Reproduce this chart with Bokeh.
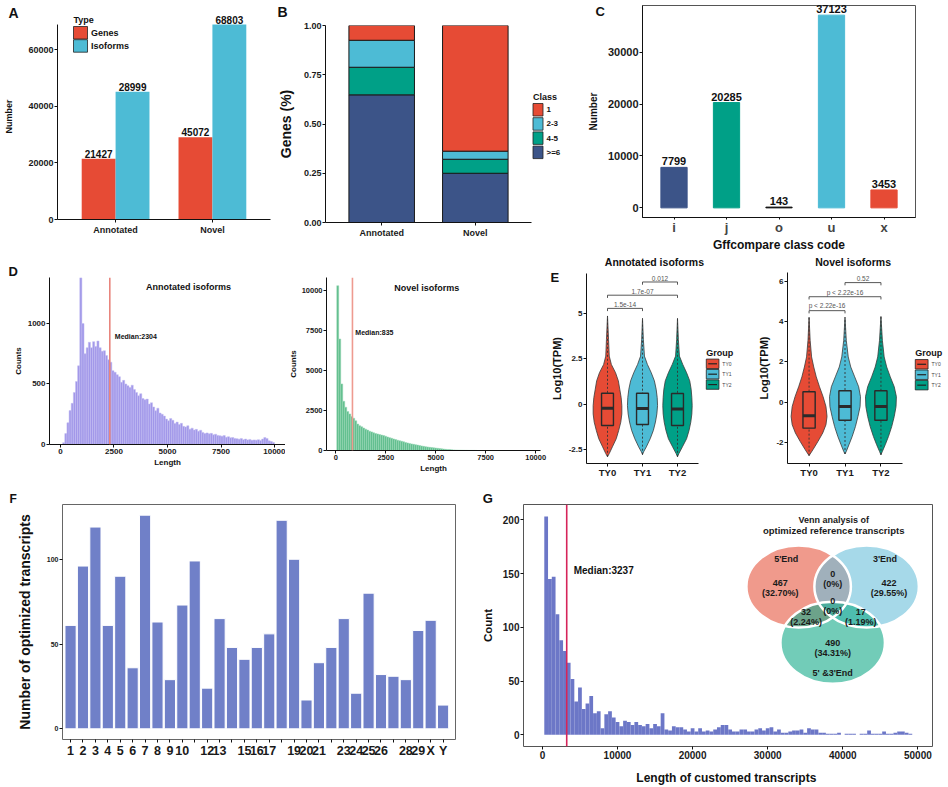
from bokeh.plotting import figure
from bokeh.layouts import row, column
from bokeh.models import (Range1d, FixedTicker, Span, ColumnDataSource)
from bokeh.core.properties import value
from bokeh.embed import file_html
from bokeh.resources import INLINE

FONT = "Liberation Sans"
BG = "#FFFFFF"
RED, CYAN, GREEN, NAVY = "#E64B35", "#4DBBD5", "#00A087", "#3C5488"

# ---------------- data ----------------
# A
a_groups = ["Annotated", "Novel"]
a_gene_height = [21427, 28999]
a_iso_height = [45072, 68803]
a_gene_label = ["21427", "45072"]
a_iso_label = ["28999", "68803"]
# B
b_groups = ["Annotated", "Novel"]
b_classes = ["1", "2-3", "4-5", ">=6"]
b_ge6 = [0.648, 0.250]
b_c45 = [0.140, 0.071]
b_c23 = [0.137, 0.041]
b_c1 = [0.075, 0.638]
# C
c_codes = ["i", "j", "o", "u", "x"]
c_counts = [7799, 20285, 143, 37123, 3453]
# D
d1_median = 2304
d1_counts = [15, 90, 180, 280, 340, 430, 520, 650, 1378, 1000,
             750, 800, 845, 800, 850, 810, 855, 800, 770, 775,
             735, 700, 680, 610, 597, 577, 560, 514, 530, 500,
             486, 470, 490, 455, 430, 403, 420, 380, 370, 375,
             334, 345, 310, 279, 300, 260, 250, 235, 210, 196,
             215, 200, 174, 185, 165, 175, 150, 145, 155, 127,
             135, 120, 125, 110, 118, 100, 91, 96, 88, 92,
             80, 85, 75, 72, 69, 74, 60, 65, 55, 58,
             50, 48, 44, 50, 40, 45, 38, 42, 35, 38,
             36, 40, 34, 45, 58, 50, 30, 25, 17]
d2_median = 835
d2_counts = [10270, 6950, 4150, 3070, 2700, 2430, 2280, 2115, 2010, 1850,
             1650, 1550, 1480, 1400, 1330, 1270, 1200, 1160, 1100, 1060,
             1030, 990, 960, 930, 890, 840, 800, 760, 720, 680,
             640, 610, 575, 540, 500, 470, 440, 410, 385, 360,
             335, 310, 285, 260, 240, 220, 200, 185, 170, 155,
             140, 120, 105, 90, 75, 65, 55, 45, 38, 32,
             27, 22, 18, 15, 12, 10, 8, 7, 6, 5]
# E
e_groups = ["TY0", "TY1", "TY2"]
ann_y = [[-2.92, -2.74, -2.37, -1.92, -1.46, -1.0, -0.55, -0.09, 0.36, 0.82, 1.28, 1.73, 2.19, 2.65, 3.56, 4.87],
         [-2.80, -2.65, -2.37, -1.92, -1.46, -1.0, -0.55, -0.09, 0.36, 0.82, 1.28, 1.73, 2.19, 2.65, 3.56, 4.74],
         [-2.92, -2.74, -2.37, -1.92, -1.46, -1.0, -0.55, -0.09, 0.36, 0.82, 1.28, 1.73, 2.19, 2.65, 3.56, 4.74]]
ann_hw = [[0, 0.05, 0.14, 0.25, 0.32, 0.38, 0.41, 0.41, 0.39, 0.35, 0.31, 0.23, 0.11, 0.05, 0.03, 0],
          [0, 0.03, 0.11, 0.22, 0.31, 0.37, 0.41, 0.43, 0.42, 0.39, 0.34, 0.25, 0.14, 0.055, 0.025, 0],
          [0, 0.04, 0.14, 0.26, 0.33, 0.38, 0.41, 0.42, 0.41, 0.39, 0.35, 0.26, 0.15, 0.055, 0.025, 0]]
ann_q1 = [-1.19, -1.13, -1.19]
ann_med = [-0.24, -0.25, -0.27]
ann_q3 = [0.60, 0.60, 0.58]
ann_pairs = [(1, 2), (1, 3), (2, 3)]
ann_pheight = [5.29, 6.02, 6.75]
ann_plabel = ["1.5e-14", "1.7e-07", "0.012"]

nov_y = [[-2.64, -2.34, -1.93, -1.52, -1.11, -0.70, -0.21, 0.28, 0.77, 1.26, 1.75, 2.25, 3.07, 4.21],
         [-2.56, -2.43, -2.10, -1.69, -1.20, -0.70, -0.21, 0.28, 0.77, 1.26, 1.75, 2.25, 3.07, 4.21],
         [-2.60, -2.43, -2.10, -1.69, -1.20, -0.70, -0.21, 0.28, 0.77, 1.26, 1.75, 2.25, 3.07, 4.25]]
nov_hw = [[0, 0.11, 0.25, 0.38, 0.47, 0.50, 0.47, 0.39, 0.29, 0.20, 0.13, 0.07, 0.03, 0],
          [0, 0.036, 0.11, 0.20, 0.29, 0.36, 0.42, 0.43, 0.38, 0.27, 0.16, 0.09, 0.036, 0],
          [0, 0.04, 0.12, 0.21, 0.30, 0.37, 0.42, 0.43, 0.37, 0.26, 0.16, 0.09, 0.04, 0]]
nov_q1 = [-1.28, -0.89, -0.89]
nov_med = [-0.66, -0.21, -0.21]
nov_q3 = [0.52, 0.57, 0.57]
nov_pairs = [(1, 2), (1, 3), (2, 3)]
nov_pheight = [4.54, 5.23, 5.93]
nov_plabel = ["p < 2.22e-16", "p < 2.22e-16", "0.52"]
# F
f_chroms = [str(i) for i in range(1, 30)] + ["X", "Y"]
f_counts = [61, 96, 119, 61, 90, 36, 126, 63, 29, 73, 99, 24, 65, 48, 41, 48, 56,
            123, 100, 17, 39, 48, 65, 21, 80, 32, 31, 29, 58, 64, 14]
f_hidden = ["11", "14", "18", "22", "27"]
# G
g_median = 3237
g_counts = [203, 145, 147, 112, 88, 78, 67, 52, 31, 44,
            24, 29, 36, 20, 22, 6, 19, 22, 16, 12,
            8, 13, 12, 9, 12, 9, 8, 10, 6, 10,
            8, 20, 5, 4, 8, 7, 7, 5, 3, 6,
            3, 6, 3, 4, 3, 5, 7, 9, 9, 5,
            3, 3, 5, 5, 3, 3, 5, 6, 4, 6,
            7, 3, 5, 2, 2, 3, 4, 4, 5, 2,
            6, 5, 5, 2, 2, 1, 1, 1, 2, 0,
            1, 1, 1, 0, 1, 1, 4, 1, 1, 1,
            3, 1, 1, 2, 3, 3, 2, 1, 0]
venn_names = ["5'End", "3'End", "5' &3'End"]
venn_only = [467, 422, 490]
venn_ab, venn_ac, venn_bc, venn_abc = 0, 32, 17, 0

# ---------------- helpers ----------------
def mk(w, h, l, r, t, b, xr, yr, frame_page):
    p = figure(width=w, height=h, x_range=Range1d(*xr), y_range=Range1d(*yr),
               output_backend="svg", toolbar_location=None, title=None,
               min_border_left=l, min_border_right=r, min_border_top=t, min_border_bottom=b)
    p.xgrid.visible = False
    p.ygrid.visible = False
    p.outline_line_color = None
    p.background_fill_color = BG
    p.border_fill_color = BG
    fl, fr, ft, fb = frame_page
    # page-pixel coordinate system for free texts / keys
    p.extra_x_ranges = {"px": Range1d(fl, fr)}
    p.extra_y_ranges = {"py": Range1d(fb, ft)}
    return p


def sty(ax, tick_size, label_size=10, label_standoff=4, tick_standoff=2, tick_color="#1a1a1a", tick_out=3):
    ax.axis_line_color = "#111111"
    ax.axis_line_width = 1
    ax.major_tick_line_color = "#111111"
    ax.major_tick_out = tick_out
    ax.major_tick_in = 0
    ax.minor_tick_line_color = None
    ax.major_label_text_font = FONT
    ax.major_label_text_font_size = f"{tick_size}px"
    ax.major_label_text_font_style = "bold"
    ax.major_label_text_color = tick_color
    ax.major_label_standoff = tick_standoff
    ax.axis_label_text_font = FONT
    ax.axis_label_text_font_size = f"{label_size}px"
    ax.axis_label_text_font_style = "bold"
    ax.axis_label_text_color = "#111111"
    ax.axis_label_standoff = label_standoff


def ptext(p, x, y, text, size, align="center", style="bold", color="#111111", base="middle"):
    p.text(x=[x], y=[y], text=[text], x_range_name="px", y_range_name="py", level="overlay",
           text_align=align, text_baseline=base, text_font=value(FONT),
           text_font_size=f"{size}px", text_font_style=style, text_color=color)


def key_legend(p, x, y_title, title, labels, colors, kw, kh, step, lsize, tsize,
               lstyle="bold", median=False, lcolor="#111111"):
    ptext(p, x, y_title, title, tsize, align="left")
    y0 = y_title + tsize * 0.5 + 2
    tops = [y0 + i * step for i in range(len(labels))]
    p.quad(left=[x] * len(labels), right=[x + kw] * len(labels), top=tops,
           bottom=[t + kh for t in tops], fill_color=colors, line_color="#222222",
           line_width=0.8, x_range_name="px", y_range_name="py", level="overlay")
    if median:
        p.segment(x0=[x + 2] * len(labels), x1=[x + kw - 2] * len(labels),
                  y0=[t + kh / 2 for t in tops], y1=[t + kh / 2 for t in tops],
                  line_color="#222222", line_width=1.2, x_range_name="px", y_range_name="py",
                  level="overlay")
    for t, lab in zip(tops, labels):
        ptext(p, x + kw + 3.5, t + kh / 2, lab, lsize, align="left", style=lstyle, color=lcolor)

# ---------------- A ----------------
A_SCALE = 60000 / 170.0          # units per pixel
pa = mk(272, 254, 57, 2, 13, 35, (0.4, 2.6), (0, (219 - 13) * A_SCALE), (57, 270, 13, 219))
ax_pos = list(range(1, len(a_groups) + 1))
src_a = ColumnDataSource(dict(xg=[x - 0.175 for x in ax_pos], xi=[x + 0.175 for x in ax_pos],
                              g=a_gene_height, i=a_iso_height, gl=a_gene_label, il=a_iso_label))
pa.vbar(x="xg", top="g", width=0.35, fill_color=RED, line_color=None, source=src_a)
pa.vbar(x="xi", top="i", width=0.35, fill_color=CYAN, line_color=None, source=src_a)
for xc, yc, tc in (("xg", "g", "gl"), ("xi", "i", "il")):
    pa.text(x=xc, y=yc, text=tc, source=src_a, y_offset=-1, text_align="center",
            text_baseline="bottom", text_font=value(FONT), text_font_size="10px",
            text_font_style="bold", text_color="#111111", level="overlay")
pa.xaxis.ticker = FixedTicker(ticks=ax_pos)
pa.xaxis.major_label_overrides = {x: g for x, g in zip(ax_pos, a_groups)}
pa.yaxis.ticker = FixedTicker(ticks=[0, 20000, 40000, 60000])
pa.yaxis.axis_label = "Number"
sty(pa.xaxis, 9)
sty(pa.yaxis, 9, 9, 11, 1)
pa.yaxis.axis_line_color = None
pa.segment(x0=[0.4], y0=[0], x1=[0.4], y1=[max(a_iso_height)], line_color="#111111",
           line_width=1, level="overlay")
key_legend(pa, 73, 19.5, "Type", ["Genes", "Isoforms"], [RED, CYAN], 14, 12.5, 13.2, 9, 9)
ptext(pa, 8, 12, "A", 14, align="left")

# ---------------- B ----------------
pb = mk(308, 254, 53, 49, 25, 32, (0.4, 2.6), (0, 1), (325, 531, 25, 222))
bx = list(range(1, len(b_groups) + 1))
src_b = ColumnDataSource(dict(x=bx, ge6=b_ge6, c45=b_c45, c23=b_c23, c1=b_c1))
pb.vbar_stack(["ge6", "c45", "c23", "c1"], x="x", width=0.7, color=[NAVY, GREEN, CYAN, RED],
              line_color="#1a1a1a", line_width=1, source=src_b)
pb.xaxis.ticker = FixedTicker(ticks=bx)
pb.xaxis.major_label_overrides = {x: g for x, g in zip(bx, b_groups)}
b_ticks = [0, 0.25, 0.5, 0.75, 1.0]
pb.yaxis.ticker = FixedTicker(ticks=b_ticks)
pb.yaxis.major_label_overrides = {t: f"{t:.2f}" for t in b_ticks}
pb.yaxis.axis_label = "Genes (%)"
sty(pb.xaxis, 9)
sty(pb.yaxis, 9, 14, 7, 1)
key_legend(pb, 532.5, 96.5, "Class", b_classes, [RED, CYAN, GREEN, NAVY], 10, 12.5, 14.2, 8, 9)
ptext(pb, 277, 11, "B", 14, align="left")

# ---------------- C ----------------
pc = mk(368, 254, 62, 33, 5, 36, (0.4, 5.6), (-1856, 38979), (642, 915, 5, 218))
pc.outline_line_color = "#555555"
cx = list(range(1, len(c_codes) + 1))
src_c = ColumnDataSource(dict(x=cx, y=c_counts, t=[str(v) for v in c_counts],
                              c=[NAVY, GREEN, "#111111", CYAN, RED]))
pc.vbar(x="x", top="y", width=0.5, fill_color="c", line_color="c", line_width=1, source=src_c)
pc.text(x="x", y="y", text="t", source=src_c, y_offset=-2, text_align="center",
        text_baseline="bottom", text_font=value(FONT), text_font_size="11px",
        text_font_style="bold", text_color="#111111", level="overlay")
pc.xaxis.ticker = FixedTicker(ticks=cx)
pc.xaxis.major_label_overrides = {x: g for x, g in zip(cx, c_codes)}
pc.yaxis.ticker = FixedTicker(ticks=[0, 10000, 20000, 30000])
pc.xaxis.axis_label = "Gffcompare class code"
pc.yaxis.axis_label = "Number"
sty(pc.xaxis, 13, 12, 0, 0, "#444444", 2)
sty(pc.yaxis, 11, 10, 6, 1)
ptext(pc, 595, 11, "C", 13, align="left")

row1 = row(column(pa), column(pb), column(pc))

# ---------------- D ----------------
def hist_panel(w, l, r, t, b, xr, yr, lefts, width, counts, fill, edge, med, medcol, frame):
    p = mk(w, 226, l, r, t, b, xr, yr, frame)
    p.quad(left=lefts, right=[v + width for v in lefts], top=counts, bottom=0,
           fill_color=fill, line_color=edge, line_width=0.5)
    p.add_layout(Span(location=med, dimension="height", line_color=medcol, line_width=1.6))
    return p

d1_left = list(range(100, 100 + 100 * len(d1_counts), 100))
pd1 = hist_panel(285, 49, 0, 23, 36, (-514, 10514), (0, 1380), d1_left, 100, d1_counts,
                 "#A197E9", "#C5BFF3", d1_median, "#E8857D", (49, 285, 277, 444))
pd1.yaxis.ticker = FixedTicker(ticks=[0, 500, 1000])
pd1.xaxis.ticker = FixedTicker(ticks=[0, 2500, 5000, 7500, 10000])
pd1.xaxis.axis_label = "Length"
pd1.yaxis.axis_label = "Counts"
sty(pd1.xaxis, 8, 8, 1, 1)
sty(pd1.yaxis, 8, 8, 2, 1)
ptext(pd1, 188, 286, "Annotated isoforms", 9)
ptext(pd1, 60 + 0.0214 * d1_median + 5, 336, f"Median:{d1_median}", 7, align="left")
ptext(pd1, 8, 271, "D", 13, align="left")

d2_left = list(range(50, 50 + 100 * len(d2_counts), 100))
pd2 = hist_panel(262, 31, 7, 23, 30, (-463, 10240), (0, 10780), d2_left, 100, d2_counts,
                 "#5CBD8B", "#9FDABB", d2_median, "#EE9A90", (316, 540, 277, 450))
pd2.yaxis.ticker = FixedTicker(ticks=[0, 2500, 5000, 7500, 10000])
pd2.xaxis.ticker = FixedTicker(ticks=[0, 2500, 5000, 7500, 10000])
pd2.xaxis.axis_label = "Length"
pd2.yaxis.axis_label = "Counts"
sty(pd2.xaxis, 7.5, 8, 1, 1)
sty(pd2.yaxis, 7.5, 8, 1, 1)
ptext(pd2, 421, 287, "Novel isoforms", 9)
ptext(pd2, 325.7 + 0.02093 * d2_median + 3, 332, f"Median:{d2_median}", 7, align="left")

# ---------------- E ----------------
def violin_panel(w, l, r, t, b, yr, ys, hws, q1, med, q3, pairs, ph, pl, yticks, frame, title, tx, leg_x):
    p = mk(w, 226, l, r, t, b, (0.4, 3.6), yr, frame)
    cols = [RED, CYAN, GREEN]
    for i, g in enumerate(e_groups):
        c = i + 1
        vx = [c + h for h in hws[i]] + [c - h for h in reversed(hws[i])]
        vy = list(ys[i]) + list(reversed(ys[i]))
        p.patch(vx, vy, fill_color=cols[i], line_color="#3a3a3a", line_width=0.8)
        p.segment(x0=[c], y0=[min(ys[i])], x1=[c], y1=[max(ys[i])], line_color="#333333",
                  line_width=0.9, line_dash="2 2")
        p.quad(left=[c - 0.17], right=[c + 0.17], bottom=[q1[i]], top=[q3[i]], fill_color=cols[i],
               line_color="#2a2a2a", line_width=1.4)
        p.segment(x0=[c - 0.17], y0=[med[i]], x1=[c + 0.17], y1=[med[i]], line_color="#2a2a2a",
                  line_width=3)
    d = 0.15 * (yr[1] - yr[0]) / 10.5
    p.multi_line(xs=[[a, a, bb, bb] for a, bb in pairs],
                 ys=[[h - d, h, h, h - d] for h in ph], line_color="#444444", line_width=0.9)
    p.text(x=[(a + bb) / 2 for a, bb in pairs], y=[h + 0.06 for h in ph], text=pl,
           text_align="center", text_baseline="bottom", text_font=value(FONT),
           text_font_size="6.5px", text_color="#555555")
    ex = [1, 2, 3]
    p.xaxis.ticker = FixedTicker(ticks=ex)
    p.xaxis.major_label_overrides = {x: g for x, g in zip(ex, e_groups)}
    p.yaxis.ticker = FixedTicker(ticks=yticks)
    p.yaxis.major_label_overrides = {v: (str(v) if v != int(v) else str(int(v))) for v in yticks}
    p.yaxis.axis_label = "Log10(TPM)"
    sty(p.xaxis, 9.5, 9, 1, 0)
    sty(p.yaxis, 8, 11, 3, 1)
    ptext(p, tx, 261, title, 10.5)
    key_legend(p, leg_x, 353, "Group", e_groups, cols, 13, 9.5, 10.5, 5, 9,
               lstyle="normal", median=True, lcolor="#444444")
    return p

pe1 = violin_panel(208, 35, 57, 19, 15, (-3.29, 7.22), ann_y, ann_hw, ann_q1, ann_med, ann_q3,
                   ann_pairs, ann_pheight, ann_plabel, [-2.5, 0, 2.5, 5], (582, 697, 273, 465),
                   "Annotated isoforms", 651.7, 705)
ptext(pe1, 545, 277, "E", 13, align="left")
pe2 = violin_panel(193, 30, 46, 18, 16, (-3.03, 6.43), nov_y, nov_hw, nov_q1, nov_med, nov_q3,
                   nov_pairs, nov_pheight, nov_plabel, [-2, 0, 2, 4, 6], (785, 902, 272, 464),
                   "Novel isoforms", 851.7, 915)

row2 = row(column(pd1), column(pd2), column(pe1), column(pe2))

# ---------------- F ----------------
pf = mk(478, 307, 62, 23, 24, 48, (0.35, 32.0), (-6.3, 132.3), (62, 455, 504, 739))
pf.outline_line_color = "#666666"
fx = list(range(1, len(f_chroms) + 1))
pf.vbar(x=fx, top=f_counts, width=0.9, fill_color="#7080C8", line_color="white", line_width=1)
pf.xaxis.ticker = FixedTicker(ticks=fx)
pf.xaxis.major_label_overrides = {x: ("" if c in f_hidden else c) for x, c in zip(fx, f_chroms)}
pf.yaxis.ticker = FixedTicker(ticks=[0, 50, 100])
pf.yaxis.axis_label = "Number of optimized transcripts"
sty(pf.xaxis, 12.5, 12, 2, 1)
sty(pf.yaxis, 7, 14, 11, 1)
pf.xaxis.axis_line_color = None
pf.yaxis.axis_line_color = None
ptext(pf, 9, 498, "F", 12, align="left")

# ---------------- G ----------------
pg = mk(470, 307, 43, 16, 24, 41, (-2518, 51948), (-10.9, 214.2), (521, 932, 504, 746))
pg.outline_line_color = "#555555"
g_left = list(range(250, 250 + 500 * len(g_counts), 500))
pg.quad(left=g_left, right=[v + 500 for v in g_left], top=g_counts, bottom=0,
        fill_color="#6C77C7", line_color=None)
pg.add_layout(Span(location=g_median, dimension="height", line_color="#D6245A", line_width=1.6))
ptext(pg, 540 + 0.007546 * g_median + 7, 569.5, f"Median:{g_median}", 10, align="left")
pg.xaxis.ticker = FixedTicker(ticks=[0, 10000, 20000, 30000, 40000, 50000])
pg.yaxis.ticker = FixedTicker(ticks=[0, 50, 100, 150, 200])
pg.xaxis.axis_label = "Length of  customed transcripts"
pg.yaxis.axis_label = "Count"
sty(pg.xaxis, 10, 12, 9, 1)
sty(pg.yaxis, 10, 11.5, 6, 1)
pg.xaxis.axis_line_color = None
pg.yaxis.axis_line_color = None
ptext(pg, 480, 498, "G", 13, align="left")

# Venn inset (page-pixel coordinates inside panel G)
vc_x = [797.5, 865.8, 831.7]
vc_y = [586, 586, 642.3]
vc_col = ["#E6573F", "#6BC0DA", "#14AA89"]
for xx, yy, cc in zip(vc_x, vc_y, vc_col):
    pg.ellipse(x=[xx], y=[yy], width=[105], height=[82], fill_color=cc, fill_alpha=0.6,
               line_color=None, x_range_name="px", y_range_name="py")
pg.ellipse(x=vc_x, y=vc_y, width=[105] * 3, height=[82] * 3, fill_color=None,
           line_color="white", line_width=2.5, x_range_name="px", y_range_name="py")
total = sum(venn_only) + venn_ab + venn_ac + venn_bc + venn_abc

def pct(v):
    return "(0%)" if v == 0 else f"({100 * v / total:.2f}%)"

vt = [
    (832.7, 519.5, "Venn analysis of", 9),
    (832.7, 529.5, "optimized reference transcripts", 9.5),
    (785, 558, venn_names[0], 9), (884.3, 558, venn_names[1], 9),
    (779, 582.7, str(venn_only[0]), 9), (779, 592.7, pct(venn_only[0]), 9),
    (888.3, 582.7, str(venn_only[1]), 9), (888.3, 592.7, pct(venn_only[1]), 9),
    (831.7, 573.3, str(venn_ab), 9), (831.7, 583, pct(venn_ab), 9),
    (831.7, 600.7, str(venn_abc), 9), (831.7, 610, pct(venn_abc), 9),
    (805, 611.7, str(venn_ac), 9), (805, 621.3, pct(venn_ac), 9),
    (860, 611.7, str(venn_bc), 9), (860, 621.3, pct(venn_bc), 9),
    (831.7, 642.7, str(venn_only[2]), 9), (831.7, 652.3, pct(venn_only[2]), 9),
    (831.7, 672.7, venn_names[2], 9),
]
for xx, yy, tt, fs in vt:
    ptext(pg, xx, yy, tt, fs, color="#1a1a1a")

row3 = row(column(pf), column(pg))

layout = column(row1, row2, row3)
open("out.html", "w").write(file_html(layout, INLINE))
